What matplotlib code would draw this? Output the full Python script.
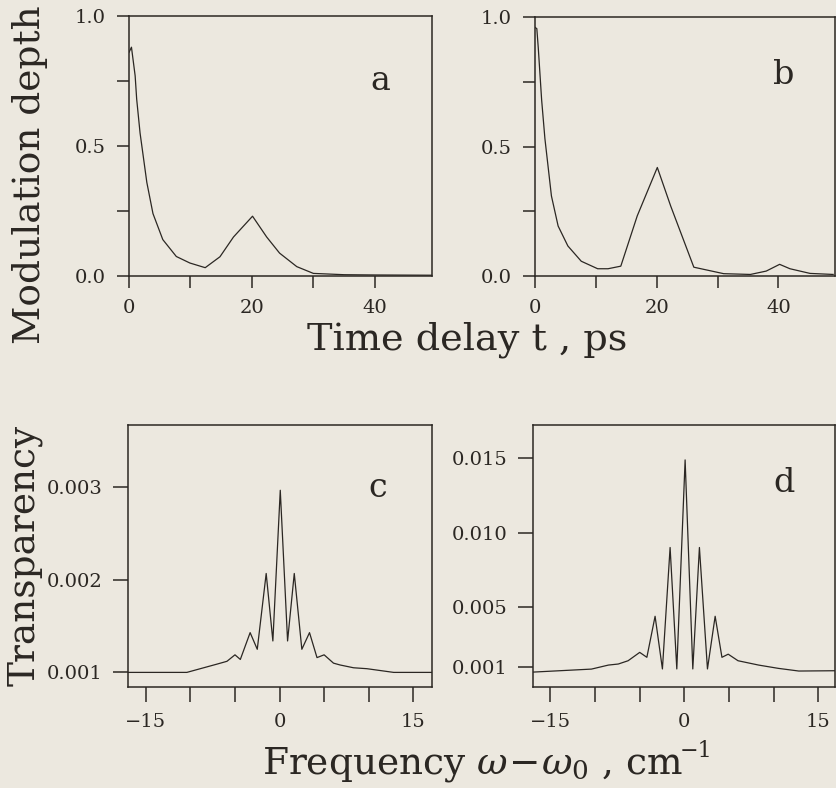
import matplotlib
matplotlib.use('Agg')
import matplotlib.pyplot as plt
from matplotlib.ticker import FixedLocator

plt.rcParams['font.family'] = 'DejaVu Serif'
plt.rcParams['mathtext.fontset'] = 'dejavuserif'

# panel a / b: modulation depth vs time delay (ps)
a_t = [0, 0.4, 1.0, 1.25, 1.8, 2.9, 3.9, 5.5, 7.7, 9.9, 12.4, 14.8, 17.0, 20.1,
       22.4, 24.5, 27.3, 30.0, 35.0, 40.0, 49.3]
a_m = [0.86, 0.88, 0.77, 0.68, 0.55, 0.36, 0.24, 0.14, 0.075, 0.05, 0.032, 0.074,
       0.15, 0.23, 0.15, 0.088, 0.036, 0.01, 0.005, 0.004, 0.003]

b_t = [0, 0.3, 0.54, 1.09, 1.63, 2.7, 3.8, 5.4, 7.6, 10.3, 12.0, 14.1, 16.8, 20.1,
       22.3, 26.1, 31.0, 35.4, 38.0, 40.2, 41.9, 45.2, 49.0]
b_m = [0.96, 0.955, 0.88, 0.68, 0.53, 0.309, 0.193, 0.116, 0.057, 0.028, 0.028,
       0.038, 0.232, 0.419, 0.27, 0.034, 0.009, 0.006, 0.019, 0.045, 0.028, 0.01, 0.006]

# panel c / d: transparency vs frequency offset (cm^-1)
c_w = [-17.0, -10.4, -7.0, -5.9, -5.0, -4.4, -3.3, -2.5, -1.5, -0.75, 0.08,
       0.9, 1.65, 2.5, 3.36, 4.2, 5.0, 6.05, 6.8, 8.3, 9.8, 12.8, 17.1]
c_T = [0.00100, 0.00100, 0.00109, 0.00112, 0.00119, 0.00114, 0.00143, 0.00125,
       0.00207, 0.00134, 0.00297, 0.00134, 0.00207, 0.00125, 0.00143, 0.00116,
       0.00119, 0.00110, 0.00108, 0.00105, 0.00104, 0.00100, 0.00100]

d_w = [-16.9, -10.4, -8.5, -7.4, -6.3, -5.0, -4.2, -3.28, -2.46, -1.6, -0.85,
       0.08, 0.94, 1.68, 2.58, 3.44, 4.2, 4.9, 6.0, 8.3, 10.5, 12.8, 16.8]
d_T = [0.00066, 0.00086, 0.00113, 0.00120, 0.00142, 0.00198, 0.00165, 0.00440,
       0.00087, 0.00901, 0.00087, 0.01488, 0.00087, 0.00901, 0.00087, 0.00440,
       0.00165, 0.00186, 0.00142, 0.00113, 0.00091, 0.00073, 0.00075]

bg = '#ece8df'
ink = '#2b2723'

W, H = 836, 788
fig = plt.figure(figsize=(W / 100, H / 100), dpi=100, facecolor=bg)


def box(l, t, r, b):
    return [l / W, 1 - b / H, (r - l) / W, (b - t) / H]


def style(ax, ticklen):
    ax.set_facecolor(bg)
    for s in ax.spines.values():
        s.set_linewidth(1.1)
        s.set_color(ink)
    ax.tick_params(direction='out', length=ticklen, width=1.1, color=ink,
                   labelsize=14, labelcolor=ink, pad=8)


ax_a = fig.add_axes(box(129, 16, 432, 276))
ax_b = fig.add_axes(box(535, 17, 835, 276))
ax_c = fig.add_axes(box(128, 425, 432, 687))
ax_d = fig.add_axes(box(533, 425, 835, 687))

for ax, t, m, lab, ly in [(ax_a, a_t, a_m, 'a', 0.75), (ax_b, b_t, b_m, 'b', 0.776)]:
    ax.plot(t, m, color=ink, lw=0.9)
    ax.set_xlim(0, 49.3)
    ax.set_ylim(0, 1.0)
    ax.xaxis.set_major_locator(FixedLocator([0, 10, 20, 30, 40]))
    ax.set_xticklabels(['0', '', '20', '', '40'])
    ax.yaxis.set_major_locator(FixedLocator([0, 0.25, 0.5, 0.75, 1.0]))
    ax.set_yticklabels(['0.0', '', '0.5', '', '1.0'])
    style(ax, 8.5)
    ax.text(0.83, ly, lab, transform=ax.transAxes,
            fontsize=24, color=ink, ha='center', va='center')

ax_c.plot(c_w, c_T, color=ink, lw=0.9)
ax_c.set_xlim(-17.0, 17.1)
ax_c.set_ylim(0.000842, 0.003676)
ax_c.yaxis.set_major_locator(FixedLocator([0.001, 0.002, 0.003]))
ax_c.set_yticklabels(['0.001', '0.002', '0.003'])
ax_c.text(0.82, 0.76, 'c', transform=ax_c.transAxes, fontsize=24, color=ink,
          ha='center', va='center')

ax_d.plot(d_w, d_T, color=ink, lw=0.9)
ax_d.set_xlim(-16.94, 16.85)
ax_d.set_ylim(-0.00034, 0.01722)
ax_d.yaxis.set_major_locator(FixedLocator([0.001, 0.005, 0.010, 0.015]))
ax_d.set_yticklabels(['0.001', '0.005', '0.010', '0.015'])
ax_d.text(0.83, 0.78, 'd', transform=ax_d.transAxes, fontsize=24, color=ink,
          ha='center', va='center')

for ax in (ax_c, ax_d):
    ax.xaxis.set_major_locator(FixedLocator([-15, -10, -5, 0, 5, 10, 15]))
    ax.set_xticklabels(['\u221215', '', '', '0', '', '', '15'])
    style(ax, 10.5)

fig.text(30 / W, 1 - 175 / H, 'Modulation depth', rotation=90, fontsize=27,
         color=ink, ha='center', va='center')
fig.text(467 / W, 1 - 340 / H, 'Time delay t , ps', fontsize=27.5, color=ink,
         ha='center', va='center')
fig.text(25 / W, 1 - 555 / H, 'Transparency', rotation=90, fontsize=27,
         color=ink, ha='center', va='center')
fig.text(472 / W, 1 - 765 / H, r'Frequency $\omega\!-\!\omega_0$ , cm', fontsize=27,
         color=ink, ha='center', va='center')
fig.text(696 / W, 1 - 751 / H, '\u22121', fontsize=16, color=ink,
         ha='center', va='center')

plt.savefig('out.png', dpi=100, facecolor=bg)
